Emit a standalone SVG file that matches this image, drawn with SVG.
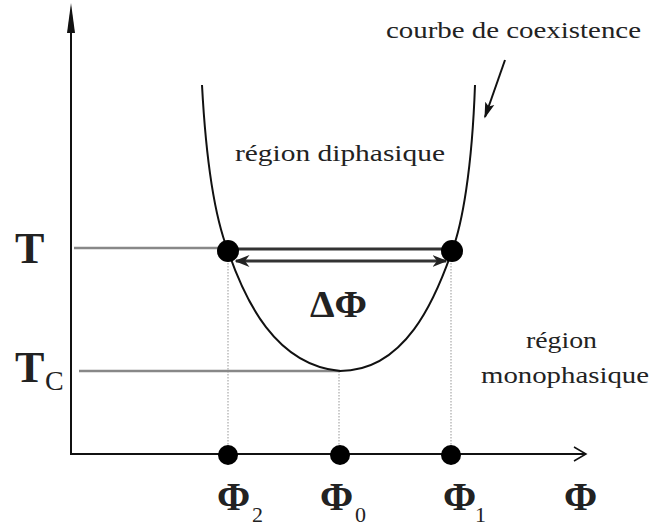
<svg xmlns="http://www.w3.org/2000/svg" width="653" height="526" viewBox="0 0 653 526">
<defs>
<style>
.t{font-family:"Liberation Serif","Times New Roman",serif;fill:#222}
.b{font-weight:bold}
.ax{stroke:#111;stroke-width:2;fill:none}
.gl{stroke:#888;stroke-width:2.5;fill:none}
.dl{stroke:#bbb;stroke-width:1.5;stroke-dasharray:1.5 1.5;fill:none}
.dot{fill:#000}
</style>
<marker id="ah" viewBox="0 0 10 10" refX="9" refY="5" markerWidth="5" markerHeight="5" orient="auto-start-reverse" markerUnits="strokeWidth">
<path d="M0,1 L10,5 L0,9 L3,5 Z" fill="#222"/>
</marker>
<marker id="ah2" viewBox="0 0 10 10" refX="9" refY="5" markerWidth="8" markerHeight="8" orient="auto" markerUnits="strokeWidth">
<path d="M0,2 L10,5 L0,8 L2,5 Z" fill="#111"/>
</marker>
</defs>
<rect width="653" height="526" fill="#fff"/>
<g id="connectors">
<line class="dl" x1="228" y1="251" x2="228" y2="454"/>
<line class="dl" x1="339" y1="371" x2="339" y2="454"/>
<line class="dl" x1="451" y1="251" x2="451" y2="454"/>
<line class="gl" x1="74" y1="248" x2="228" y2="248"/>
<line class="gl" x1="79" y1="371" x2="340" y2="371"/>
<line class="ax" x1="71" y1="455" x2="71" y2="20"/>
<polygon points="71,3 67,33 75,33" fill="#111"/>
<line class="ax" x1="70" y1="454" x2="586" y2="454"/>
<polyline class="ax" points="574,447 586,454 574,461" style="stroke-width:1.5"/>
<path class="ax" d="M202,85 C206,160 214,215 228,251 C245,300 275,365 340,371 C405,371 435,300 452,251 C462,225 472,170 475,85"/>
<line x1="228" y1="249" x2="452" y2="249" stroke="#333" stroke-width="3"/>
<line x1="236" y1="261" x2="446" y2="261" stroke="#333" stroke-width="3" marker-start="url(#ah)" marker-end="url(#ah)"/>
<line x1="505" y1="60" x2="485" y2="117" stroke="#111" stroke-width="2" marker-end="url(#ah2)"/>
</g>
<g id="points">
<circle class="dot" cx="228" cy="251" r="11"/>
<circle class="dot" cx="452" cy="251" r="11"/>
<circle class="dot" cx="228" cy="455" r="10"/>
<circle class="dot" cx="340" cy="455" r="10"/>
<circle class="dot" cx="451" cy="455" r="10"/>
</g>
<g id="labels">
<text class="t" x="386" y="38" font-size="24" textLength="255" lengthAdjust="spacingAndGlyphs">courbe de coexistence</text>
<text class="t" x="235" y="161" font-size="24" textLength="210" lengthAdjust="spacingAndGlyphs">région diphasique</text>
<text class="t" x="526" y="348" font-size="24" textLength="71" lengthAdjust="spacingAndGlyphs">région</text>
<text class="t" x="481" y="383" font-size="24" textLength="168" lengthAdjust="spacingAndGlyphs">monophasique</text>
<text class="t b" x="310" y="317" font-size="38" textLength="57" lengthAdjust="spacingAndGlyphs">ΔΦ</text>
<text class="t b" x="15" y="263" font-size="44">T</text>
<text class="t b" x="15" y="382" font-size="44">T</text>
<text class="t" x="45" y="390" font-size="28">C</text>
<text class="t b" x="217" y="510" font-size="40">Φ</text>
<text class="t" x="252" y="522" font-size="22">2</text>
<text class="t b" x="320" y="510" font-size="40">Φ</text>
<text class="t" x="355" y="522" font-size="22">0</text>
<text class="t b" x="443" y="510" font-size="40">Φ</text>
<text class="t" x="475" y="522" font-size="22">1</text>
<text class="t b" x="564" y="510" font-size="40">Φ</text>
</g>
</svg>
